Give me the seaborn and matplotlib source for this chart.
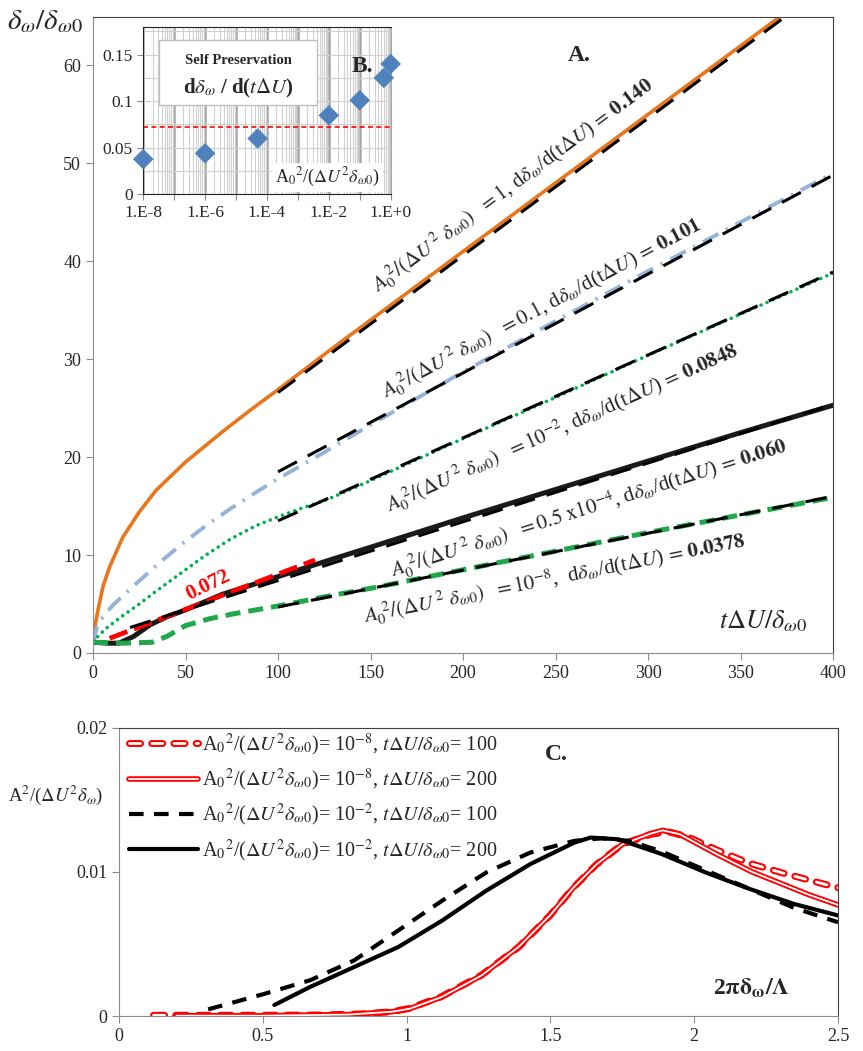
import numpy as np
import matplotlib
matplotlib.use("Agg")
import matplotlib.pyplot as plt
import matplotlib.patheffects as pe
from matplotlib.patches import Rectangle
from matplotlib.ticker import LogLocator, NullFormatter
import seaborn as sns

sns.set_style("white")
plt.rcParams['font.family'] = ['Liberation Serif', 'DejaVu Serif']
plt.rcParams['mathtext.fontset'] = 'stix'

# ---- panel A : shear layer thickness vs time ----
# A0^2 = 1
orange_t = [0, 1, 2.7, 5.4, 9, 16, 25, 34, 50, 70, 85, 100, 130, 165, 200, 250, 300, 350, 380]
orange_y = [1.2, 2.7, 4.4, 6.8, 8.8, 11.8, 14.4, 16.6, 19.5, 22.6, 24.8, 26.9, 31.2, 36.1, 41.0, 48.0, 55.0, 62.0, 66.2]
fit1_t = [100, 400]
fit1_y = [26.6, 68.6]
# A0^2 = 0.1
blue_t = [0, 2, 3.6, 10.8, 23.4, 37, 48.6, 61, 74, 88, 100, 113, 125, 150, 200, 250, 300, 350, 400]
blue_y = [1.0, 2.6, 3.3, 4.9, 7.1, 9.4, 11.2, 13.0, 14.7, 16.4, 17.8, 19.2, 20.5, 23.3, 28.7, 33.9, 39.0, 44.0, 49.0]
fit2_t = [100, 400]
fit2_y = [18.5, 48.8]
# A0^2 = 1e-2
green_t = [0, 7, 16, 25, 34, 50, 61, 74, 88, 100, 113, 127, 150, 200, 250, 300, 350, 400]
green_y = [1.2, 2.5, 3.8, 5.0, 6.3, 8.5, 10.0, 11.6, 13.0, 13.9, 14.8, 15.7, 17.6, 21.9, 26.1, 30.4, 34.6, 38.8]
fit3_t = [100, 400]
fit3_y = [13.5, 38.9]
# A0^2 = 0.5e-4
black_t = [0, 8, 14, 22, 31, 40, 50, 60, 70, 85, 100, 128, 150, 200, 250, 300, 350, 400]
black_y = [1.1, 1.0, 1.0, 1.7, 2.9, 3.7, 4.4, 5.2, 6.0, 6.9, 7.8, 9.5, 10.8, 13.8, 16.7, 19.6, 22.5, 25.3]
fit4_t = [20, 400]
fit4_y = [2.6, 25.4]
red_t = [9, 120]
red_y = [1.5, 9.5]
# A0^2 = 1e-8
gdash_t = [0, 16, 32, 40, 50, 63, 76, 100, 127, 150, 200, 250, 300, 350, 400]
gdash_y = [1.1, 1.0, 1.1, 1.7, 2.8, 3.5, 4.0, 4.8, 5.8, 6.6, 8.5, 10.4, 12.3, 14.1, 15.9]
fit5_t = [100, 400]
fit5_y = [4.7, 16.0]

# ---- panel B : growth rate vs forcing amplitude ----
b_amp = [1e-8, 1e-6, 5e-5, 1e-2, 1e-1, 0.6, 1.0]
b_rate = [0.0378, 0.044, 0.060, 0.0848, 0.101, 0.125, 0.140]
b_ref = 0.072

# ---- panel C : spectra ----
c1_x = [0.12, 0.3, 0.5, 0.7, 0.85, 0.95, 1.01, 1.12, 1.26, 1.39, 1.5, 1.58, 1.66, 1.75, 1.85, 1.91, 1.98, 2.08, 2.19, 2.31, 2.46, 2.5]
c1_y = [0.00005, 0.00005, 0.00005, 0.00007, 0.00015, 0.0003, 0.00053, 0.00133, 0.00283, 0.00478, 0.0070, 0.0089, 0.0105, 0.0119, 0.0126, 0.01278, 0.0124, 0.0115, 0.0106, 0.0099, 0.0091, 0.0089]
c2_x = [0.2, 0.5, 0.8, 0.95, 1.01, 1.12, 1.26, 1.39, 1.5, 1.58, 1.66, 1.75, 1.85, 1.89, 1.95, 2.08, 2.2, 2.3, 2.4, 2.5]
c2_y = [0.00002, 0.00002, 0.0001, 0.0003, 0.0005, 0.0013, 0.0028, 0.0048, 0.0070, 0.0089, 0.0105, 0.0119, 0.01265, 0.01287, 0.0126, 0.0112, 0.0100, 0.0092, 0.0084, 0.0077]
c3_x = [0.31, 0.51, 0.665, 0.818, 0.971, 1.124, 1.277, 1.43, 1.583, 1.678, 1.774, 1.888, 2.04, 2.194, 2.347, 2.5]
c3_y = [0.00046, 0.00156, 0.00248, 0.00386, 0.00593, 0.0080, 0.00995, 0.01133, 0.01214, 0.01232, 0.01214, 0.0114, 0.0101, 0.0088, 0.0075, 0.0065]
c4_x = [0.54, 0.665, 0.818, 0.971, 1.124, 1.277, 1.43, 1.583, 1.64, 1.736, 1.888, 2.04, 2.194, 2.347, 2.5]
c4_y = [0.00076, 0.00202, 0.0034, 0.00478, 0.00662, 0.00869, 0.01053, 0.01202, 0.01237, 0.01225, 0.01122, 0.00995, 0.0088, 0.00777, 0.00697]

fig = plt.figure(figsize=(8.63, 10.51), dpi=100)


def line_angle(ax, xs, ys):
    # screen angle of a straight segment, so labels follow the fit lines
    p0 = ax.transData.transform((xs[0], ys[0]))
    p1 = ax.transData.transform((xs[-1], ys[-1]))
    return np.degrees(np.arctan2(p1[1] - p0[1], p1[0] - p0[0]))


def frame(ax):
    for side in ['left', 'bottom']:
        ax.spines[side].set_color('#8c8c8c')
    for side in ['top', 'right']:
        ax.spines[side].set_color('#404040')
    ax.tick_params(direction='out', length=5, color='#8c8c8c', labelsize=13, left=True, bottom=True)


# main panel A
ax = fig.add_axes([0.1078, 0.3787, 0.8575, 0.6056])
ax.set_xlim(0, 400)
ax.set_ylim(0, 65)
ax.set_xticks(range(0, 401, 50))
ax.set_yticks(range(0, 61, 10))
frame(ax)

sns.lineplot(x=orange_t, y=orange_y, ax=ax, color='#E8761F', lw=2.6, sort=False, estimator=None)
sns.lineplot(x=blue_t, y=blue_y, ax=ax, color='#95B3D7', lw=2.8, sort=False, estimator=None,
             linestyle=(0, (4.5, 2.2, 0.6, 2.2)))
sns.lineplot(x=green_t, y=green_y, ax=ax, color='#00B050', lw=2.6, sort=False, estimator=None,
             linestyle=(0, (0.01, 1.8)), dash_capstyle='round')
sns.lineplot(x=black_t, y=black_y, ax=ax, color='#1a1a1a', lw=3.6, sort=False, estimator=None)
sns.lineplot(x=gdash_t, y=gdash_y, ax=ax, color='#1FA84A', lw=3.6, sort=False, estimator=None,
             linestyle=(0, (3, 1.6)))
sns.lineplot(x=red_t, y=red_y, ax=ax, color='red', lw=3.4, sort=False, estimator=None,
             linestyle=(0, (4, 1.5)))
for ft, fy in [(fit1_t, fit1_y), (fit2_t, fit2_y), (fit3_t, fit3_y), (fit4_t, fit4_y), (fit5_t, fit5_y)]:
    sns.lineplot(x=ft, y=fy, ax=ax, color='black', lw=2.2, sort=False, estimator=None,
                 linestyle=(0, (7, 4)))

ax.set_xlabel('')
ax.set_ylabel('')

# slope labels along the fits
amp = r"$A_0^{\ 2}/(\Delta U^{\,2}\ \delta_{\omega 0})$"
rate = r"d$\delta_\omega$/d(t$\Delta U$)"
labels = [
    (154, 36.8, amp + r"  $=1$, " + rate + r"$\,=\,\mathbf{0.140}$", fit1_t, fit1_y),
    (158, 26.0, amp + r"  $=0.1$, " + rate + r"$\,=\,\mathbf{0.101}$", fit2_t, fit2_y),
    (160, 14.4, amp + r"  $=10^{-2}$, " + rate + r"$\,=\,\mathbf{0.0848}$", fit3_t, fit3_y),
    (162, 7.7, amp + r"  $=0.5\ \mathrm{x}10^{-4}$, " + rate + r"$\,=\,\mathbf{0.060}$", fit4_t, fit4_y),
    (147, 3.1, amp + r"  $=10^{-8}$,  " + rate + r"$\,=\,\mathbf{0.0378}$", fit5_t, fit5_y),
]
for lx, ly, txt, ft, fy in labels:
    ax.text(lx, ly, txt, fontsize=15, rotation=line_angle(ax, ft, fy),
            rotation_mode='anchor', ha='left', va='baseline')

ax.text(62, 6.9, '0.072', color='red', fontsize=15, fontweight='bold', ha='center', va='center',
        rotation=line_angle(ax, red_t, red_y) + 5, rotation_mode='anchor')
ax.text(263, 61.0, 'A.', fontsize=17, fontweight='bold', ha='center', va='center')
ax.text(362, 3.2, r"$t\Delta U/\delta_{\omega 0}$", fontsize=19, ha='center', va='center')
fig.text(0.052, 0.979, r"$\delta_\omega/\delta_{\omega 0}$", fontsize=21, ha='center', va='center')

# inset panel B
ax_in = fig.add_axes([0.1660, 0.8151, 0.2867, 0.1595])
ax_in.set_xscale('log')
ax_in.set_xlim(1e-8, 1)
ax_in.set_ylim(0, 0.18)
ax_in.set_axisbelow(True)
decades = [10.0 ** k for k in range(-8, 1)]
ax_in.set_xticks(decades)
ax_in.set_xticklabels(['1.E-8', '', '1.E-6', '', '1.E-4', '', '1.E-2', '', '1.E+0'])
ax_in.xaxis.set_minor_locator(LogLocator(base=10, subs=range(2, 10), numticks=20))
ax_in.xaxis.set_minor_formatter(NullFormatter())
ax_in.set_yticks([0, 0.05, 0.1, 0.15])
ax_in.set_yticklabels(['0', '0.05', '0.1', '0.15'])
ax_in.set_yticks([0.025, 0.075, 0.125, 0.175], minor=True)
ax_in.grid(True, which='major', axis='x', color='#a6a6a6', lw=1.8)
ax_in.grid(True, which='minor', axis='x', color='#d0d0d0', lw=0.8)
ax_in.grid(True, which='both', axis='y', color='#d0d0d0', lw=0.8)
ax_in.tick_params(which='minor', length=0)
ax_in.tick_params(which='major', length=4, color='#8c8c8c', labelsize=12.5, left=True, bottom=True)
for side in ['left', 'top', 'bottom']:
    ax_in.spines[side].set_color('#222222')
ax_in.spines['right'].set_color('#a6a6a6')
ax_in.axhline(b_ref, color='red', lw=1.2, linestyle=(0, (3, 2)))
sns.scatterplot(x=b_amp, y=b_rate, ax=ax_in, marker='D', s=110, color='#4F81BD',
                edgecolor='none', zorder=5, clip_on=False)
ax_in.set_xlabel('')
ax_in.set_ylabel('')

ax_in.add_patch(Rectangle((0.063, 0.533), 0.639, 0.387, transform=ax_in.transAxes,
                          facecolor='white', edgecolor='#bfbfbf', lw=1, zorder=3))
ax_in.text(0.383, 0.8, 'Self Preservation', transform=ax_in.transAxes, fontsize=10.5,
           fontweight='bold', ha='center', va='center', zorder=4)
ax_in.text(0.383, 0.63, r"d$\boldsymbol{\delta_\omega}$ / d($t\Delta U$)", transform=ax_in.transAxes,
           fontsize=15, fontweight='bold', ha='center', va='center', zorder=4)
ax_in.text(0.745, 0.1, r"A$_0$$^2$/($\Delta U^2\delta_{\omega 0}$)", transform=ax_in.transAxes,
           fontsize=13, ha='center', va='center', zorder=4,
           bbox=dict(facecolor='white', edgecolor='none', pad=2))
ax_in.text(0.884, 0.76, 'B.', transform=ax_in.transAxes, fontsize=17, fontweight='bold',
           ha='center', va='center', zorder=4)

# bottom panel C
ax2 = fig.add_axes([0.1379, 0.0333, 0.8331, 0.2745])
ax2.set_xlim(0, 2.5)
ax2.set_ylim(0, 0.02)
ax2.set_xticks([0, 0.5, 1, 1.5, 2, 2.5])
ax2.set_xticklabels(['0', '0.5', '1', '1.5', '2', '2.5'])
ax2.set_yticks([0, 0.01, 0.02])
ax2.set_yticklabels(['0', '0.01', '0.02'])
frame(ax2)

lab_a = r"A$_0$$^2$/($\Delta U^2\delta_{\omega 0}$)= "
lab_t = r", $t\Delta U/\delta_{\omega 0}$= "
hollow = [pe.Stroke(linewidth=5, foreground='red'), pe.Normal()]
sns.lineplot(x=c1_x, y=c1_y, ax=ax2, color='white', lw=2, sort=False, estimator=None,
             linestyle=(0, (4, 4)), dash_capstyle='round', path_effects=hollow,
             label=lab_a + r"10$^{-8}$" + lab_t + "100")
sns.lineplot(x=c2_x, y=c2_y, ax=ax2, color='white', lw=1.3, sort=False, estimator=None,
             path_effects=[pe.Stroke(linewidth=4, foreground='red'), pe.Normal()],
             label=lab_a + r"10$^{-8}$" + lab_t + "200")
sns.lineplot(x=c3_x, y=c3_y, ax=ax2, color='black', lw=3, sort=False, estimator=None,
             linestyle=(0, (3.5, 2.5)), label=lab_a + r"10$^{-2}$" + lab_t + "100")
sns.lineplot(x=c4_x, y=c4_y, ax=ax2, color='black', lw=3, sort=False, estimator=None,
             label=lab_a + r"10$^{-2}$" + lab_t + "200")
ax2.set_xlabel('')
ax2.set_ylabel('')
ax2.legend(loc='upper left', bbox_to_anchor=(0.0, 1.02), frameon=False, fontsize=14.5,
           handlelength=3.4, handletextpad=0.2, labelspacing=0.45, borderaxespad=0.1)

ax2.text(1.52, 0.0181, 'C.', fontsize=17, fontweight='bold', ha='center', va='center')
ax2.text(2.2, 0.0019, r"2$\mathbf{\pi\delta_\omega/\Lambda}$", fontsize=17, fontweight='bold',
         ha='center', va='center')
fig.text(0.065, 0.2436, r"A$^2$/($\Delta U^2\delta_\omega$)", fontsize=13.5, ha='center', va='center')

fig.savefig('out.png', dpi=100)
